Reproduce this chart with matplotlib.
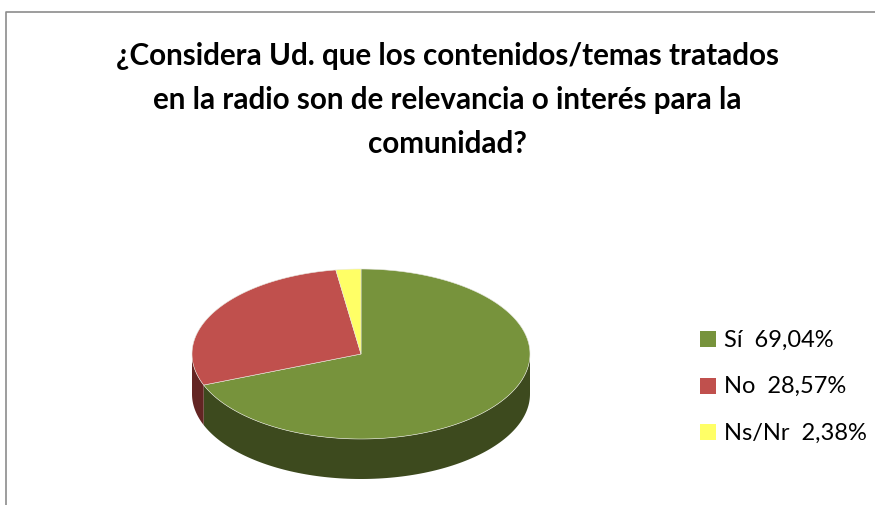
import numpy as np
import matplotlib.pyplot as plt
from matplotlib.patches import Polygon, Rectangle

# answers and their shares (%)
labels = ['Sí', 'No', 'Ns/Nr']
shares = [69.04, 28.57, 2.38]
top_colors = ['#77933c', '#c0504d', '#ffff66']
side_colors = ['#3d4a1e', '#632523', '#8f8f2e']

title = ('¿Considera Ud. que los contenidos/temas tratados\n'
         'en la radio son de relevancia o interés para la\n'
         'comunidad?')

W, H = 875, 506
fig = plt.figure(figsize=(W / 100, H / 100), dpi=100)
ax = fig.add_axes([0, 0, 1, 1])
ax.set_xlim(0, W)
ax.set_ylim(H, 0)
ax.axis('off')

# chart area border
ax.plot([6, 6, W], [H, 13, 13], color='#8c8c8c', lw=1.2, zorder=1)

# 3-D pie: ellipse centre, radii and thickness in pixels
cx, cy, rx, ry, depth = 361, 355, 169, 85, 40


def pt(theta):
    return cx + rx * np.cos(theta), cy - ry * np.sin(theta)


# slice angles, clockwise from 12 o'clock
fracs = np.array(shares) / np.sum(shares)
starts = np.pi / 2 - 2 * np.pi * np.concatenate([[0], np.cumsum(fracs)[:-1]])
ends = starts - 2 * np.pi * fracs

# side walls (only the front half of the rim is visible)
for s, e, col in zip(starts, ends, side_colors):
    for k in (0, -1):
        lo = max(e, -np.pi + 2 * np.pi * k)
        hi = min(s, 0 + 2 * np.pi * k)
        if hi <= lo:
            continue
        th = np.linspace(lo, hi, 120)
        x, y = pt(th)
        xs = np.concatenate([x, x[::-1]])
        ys = np.concatenate([y, y[::-1] + depth])
        ax.add_patch(Polygon(np.column_stack([xs, ys]), closed=True,
                             facecolor=col, edgecolor='none', zorder=2))

# top faces
for s, e, col in zip(starts, ends, top_colors):
    th = np.linspace(s, e, 300)
    x, y = pt(th)
    xs = np.concatenate([[cx], x])
    ys = np.concatenate([[cy], y])
    ax.add_patch(Polygon(np.column_stack([xs, ys]), closed=True,
                         facecolor=col, edgecolor='#e8e8e0', lw=0.4, zorder=3))

ax.text(447, 100, title, ha='center', va='center', fontsize=21.3,
        fontweight='bold', family='Lato', linespacing=1.68, color='black')

# legend
for i, (lab, v, col) in enumerate(zip(labels, shares, top_colors)):
    y = 340 + i * 46.5
    ax.add_patch(Rectangle((700, y - 8), 16, 16, facecolor=col,
                           edgecolor='none', zorder=3))
    txt = f'{lab}  {v:.2f}%'.replace('.', ',')
    ax.text(724, y, txt, ha='left', va='center', fontsize=17,
            family='Lato', color='black')

fig.savefig('out.png', dpi=100)
